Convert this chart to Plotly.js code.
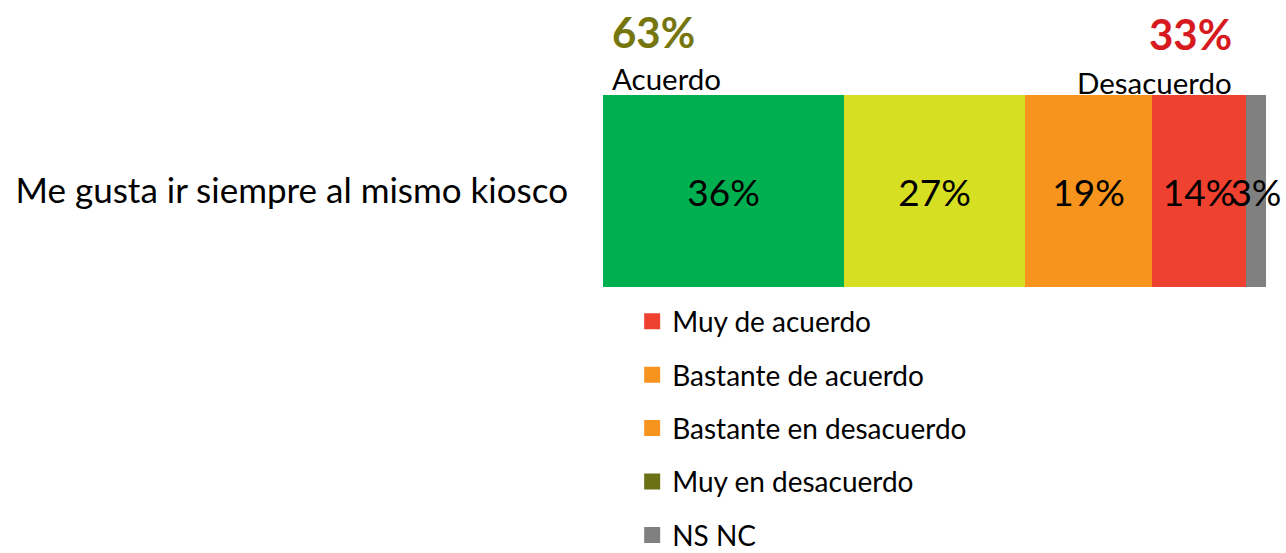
<!DOCTYPE html>
<html>
<head>
<meta charset="utf-8">
<script src="https://cdn.plot.ly/plotly-3.0.1.min.js"></script>
<style>html,body{margin:0;padding:0;background:#fff;}#chart{width:1286px;height:553px;}</style>
</head>
<body>
<div id="chart"></div>
<script>
// Data
const category = ["Me gusta ir siempre al mismo kiosco"];
const segmentNames = ["Muy de acuerdo", "Bastante de acuerdo", "Bastante en desacuerdo", "Muy en desacuerdo", "NS NC"];
const segmentValues = [36, 27, 19, 14, 3];
const segmentColors = ["#00B050", "#D7DF23", "#F7941D", "#EF4130", "#808080"];
const legendNames = ["Muy de acuerdo", "Bastante de acuerdo", "Bastante en desacuerdo", "Muy en desacuerdo", "NS NC"];
const legendColors = ["#EF4130", "#F7941D", "#F7941D", "#6B7114", "#808080"];
const totalAgree = 63;
const totalDisagree = 33;
const agreeLabel = "Acuerdo";
const disagreeLabel = "Desacuerdo";

const FONT = "Lato, 'Open Sans', sans-serif";

const traces = [];
segmentValues.forEach((v, i) => {
  traces.push({
    type: "bar",
    orientation: "h",
    y: category,
    x: [v],
    name: segmentNames[i],
    marker: {color: segmentColors[i], line: {width: 0}},
    text: [v + "%"],
    textposition: "inside",
    insidetextanchor: "middle",
    textangle: 0,
    textfont: {family: FONT, size: 37, color: "#000"},
    constraintext: "none",
    cliponaxis: false,
    showlegend: false,
    hoverinfo: "x+name"
  });
});
legendNames.forEach((n, i) => {
  traces.push({
    type: "scatter",
    mode: "markers",
    x: [null],
    y: [null],
    name: n,
    legendgroup: "g" + i,
    marker: {symbol: "square", size: 18, color: legendColors[i]},
    showlegend: true
  });
});

const layout = {
  width: 1286,
  height: 553,
  margin: {l: 603, r: 20, t: 95, b: 266, pad: 0, autoexpand: false},
  paper_bgcolor: "#fff",
  plot_bgcolor: "#fff",
  barmode: "stack",
  bargap: 0,
  uniformtext: {minsize: 37, mode: "show"},
  font: {family: FONT, color: "#000"},
  xaxis: {range: [0, 99], visible: false, fixedrange: true},
  yaxis: {
    type: "category",
    showgrid: false, zeroline: false, showline: false,
    ticks: "",
    ticklabelstandoff: 34,
    tickfont: {family: FONT, size: 35, color: "#000"},
    fixedrange: true
  },
  showlegend: true,
  legend: {
    x: 0.044, xanchor: "left",
    y: -0.05, yanchor: "top",
    orientation: "v",
    font: {family: FONT, size: 28, color: "#000"},
    tracegroupgap: 14,
    itemsizing: "trace",
    bgcolor: "rgba(0,0,0,0)"
  },
  annotations: [
    {xref: "paper", yref: "paper", x: 0.01, y: 1.0, xanchor: "left", yanchor: "bottom", yshift: 36,
     text: "<b>" + totalAgree + "%</b>", showarrow: false, font: {family: FONT, size: 42, color: "#76760F"}},
    {xref: "paper", yref: "paper", x: 0.01, y: 1.0, xanchor: "left", yanchor: "bottom", yshift: -3,
     text: agreeLabel, showarrow: false, font: {family: FONT, size: 29.5, color: "#000"}},
    {xref: "paper", yref: "paper", x: 0.9517, y: 1.0, xanchor: "right", yanchor: "bottom", yshift: 34,
     text: "<b>" + totalDisagree + "%</b>", showarrow: false, font: {family: FONT, size: 42, color: "#D71920"}},
    {xref: "paper", yref: "paper", x: 0.9517, y: 1.0, xanchor: "right", yanchor: "bottom", yshift: -7,
     text: disagreeLabel, showarrow: false, font: {family: FONT, size: 29.5, color: "#000"}}
  ]
};

Plotly.newPlot("chart", traces, layout, {displayModeBar: false, staticPlot: true});
</script>
</body>
</html>
